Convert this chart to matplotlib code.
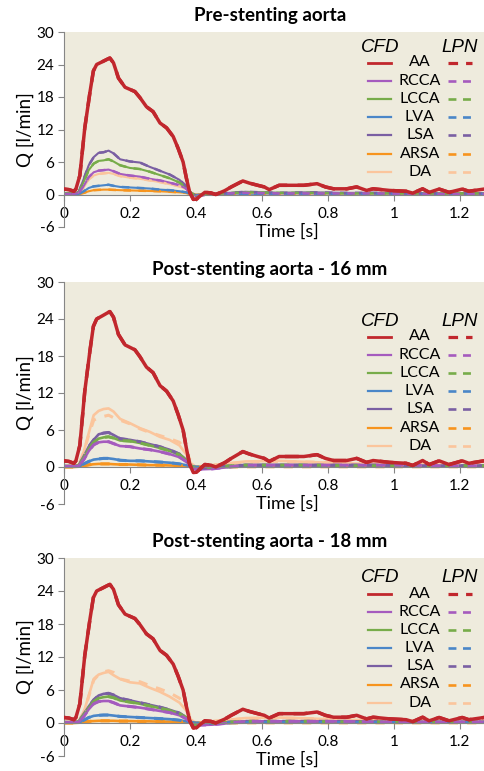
import numpy as np
import matplotlib
matplotlib.use("Agg")
import matplotlib.pyplot as plt
from matplotlib.lines import Line2D

plt.rcParams['font.family'] = ['Lato', 'DejaVu Sans']
plt.rcParams['axes.unicode_minus'] = False

# --- data (flow rate Q in l/min vs time in s) ---
NAMES = ['AA', 'RCCA', 'LCCA', 'LVA', 'LSA', 'ARSA', 'DA']
COLORS = ['#C1272D', '#A55BBE', '#77AC4A', '#4A86C8', '#7A5FA3', '#F7941E', '#FBC59C']

T_AA = [0, 0.015, 0.03, 0.036, 0.048, 0.063, 0.079, 0.089, 0.099, 0.119,
        0.132, 0.139, 0.15, 0.165, 0.185, 0.215, 0.23, 0.25, 0.27, 0.291, 0.311,
        0.331, 0.346, 0.361, 0.371, 0.381, 0.392, 0.402, 0.412, 0.427, 0.445,
        0.46, 0.487, 0.507, 0.542, 0.562, 0.587, 0.607, 0.622, 0.652, 0.687,
        0.727, 0.767, 0.792, 0.817, 0.857, 0.887, 0.917, 0.937, 0.987, 1.037,
        1.057, 1.087, 1.107, 1.137, 1.167, 1.207, 1.227, 1.273]
Q_AA = [1.0, 0.9, 0.6, 1.0, 3.5, 12.3, 19.0, 22.8, 24.0, 24.6,
        25.0, 25.2, 24.3, 21.5, 19.8, 19.0, 17.9, 16.2, 15.3, 13.2, 12.3,
        10.7, 8.5, 6.0, 3.0, 0.4, -0.9, -0.85, -0.3, 0.4, 0.3,
        0.0, 0.7, 1.4, 2.5, 2.1, 1.7, 1.4, 0.9, 1.7, 1.7,
        1.7, 2.0, 1.4, 1.05, 1.05, 1.4, 0.75, 1.05, 0.75, 0.6,
        0.25, 1.05, 0.4, 1.0, 0.4, 1.0, 0.6, 1.0]

T_BR = [0, 0.03, 0.045, 0.06, 0.075, 0.09, 0.105, 0.12, 0.135, 0.15,
        0.17, 0.2, 0.23, 0.26, 0.29, 0.32, 0.35, 0.37, 0.385, 0.4,
        0.45, 0.55, 0.65, 0.75, 0.85, 0.95, 1.05, 1.15, 1.273]

# pre-stenting
RCCA_1 = [0.1, 0.1, 0.3, 1.6, 3.2, 4.1, 4.4, 4.5, 4.6, 4.3, 3.8, 3.5, 3.3, 2.9, 2.6, 2.2, 1.7, 1.1, 0.2, -0.3, 0.1, 0.3, 0.2, 0.2, 0.2, 0.2, 0.1, 0.1, 0.1]
LCCA_1 = [0.2, 0.2, 0.4, 2.4, 4.5, 5.7, 6.2, 6.3, 6.5, 6.1, 5.4, 4.9, 4.7, 4.2, 3.6, 3.0, 2.2, 1.4, 0.3, -0.2, 0.1, 0.4, 0.3, 0.3, 0.2, 0.2, 0.2, 0.2, 0.2]
LVA_1 = [0.1, 0.1, 0.1, 0.6, 1.2, 1.5, 1.6, 1.7, 1.8, 1.6, 1.4, 1.3, 1.2, 1.1, 0.9, 0.8, 0.6, 0.4, 0.1, -0.1, 0.0, 0.1, 0.1, 0.1, 0.1, 0.1, 0.1, 0.1, 0.1]
LSA_1 = [0.2, 0.2, 0.5, 2.9, 5.4, 6.9, 7.7, 7.8, 8.1, 7.6, 6.5, 6.1, 5.9, 5.1, 4.4, 3.7, 2.7, 1.6, 0.3, -0.2, 0.1, 0.5, 0.3, 0.4, 0.3, 0.3, 0.2, 0.2, 0.2]
ARSA_1 = [0.0, 0.0, 0.1, 0.3, 0.6, 0.8, 0.85, 0.9, 0.9, 0.85, 0.8, 0.75, 0.7, 0.65, 0.6, 0.5, 0.4, 0.3, 0.1, 0.0, 0.0, 0.1, 0.1, 0.1, 0.1, 0.1, 0.1, 0.1, 0.1]
DA_1 = [0.1, 0.1, 0.2, 1.3, 2.8, 3.5, 3.8, 3.9, 4.0, 3.8, 3.4, 3.1, 2.9, 2.6, 2.3, 1.9, 1.5, 1.0, 0.2, 0.0, 0.1, 0.3, 0.2, 0.2, 0.2, 0.2, 0.1, 0.1, 0.1]
DA_1_LPN = DA_1

# post-stenting 16 mm
RCCA_2 = [0.1, 0.1, 0.2, 1.2, 2.6, 3.6, 4.0, 4.1, 4.1, 3.8, 3.4, 3.3, 3.0, 2.8, 2.5, 2.1, 1.6, 0.9, 0.1, -0.4, -0.3, 0.3, 0.3, 0.3, 0.3, 0.3, 0.3, 0.2, 0.2]
LCCA_2 = [0.1, 0.1, 0.3, 1.5, 3.0, 4.0, 4.6, 4.8, 4.9, 4.7, 4.3, 4.2, 3.9, 3.5, 3.1, 2.6, 2.0, 1.1, 0.2, -0.3, 0.0, 0.3, 0.3, 0.3, 0.2, 0.2, 0.2, 0.2, 0.2]
LVA_2 = [0.1, 0.1, 0.1, 0.5, 0.9, 1.2, 1.3, 1.4, 1.4, 1.3, 1.1, 1.0, 1.0, 0.9, 0.8, 0.7, 0.5, 0.3, 0.1, 0.0, 0.0, 0.1, 0.1, 0.1, 0.1, 0.1, 0.1, 0.1, 0.1]
LSA_2 = [0.1, 0.1, 0.3, 1.7, 3.3, 4.4, 5.3, 5.5, 5.6, 5.2, 4.6, 4.4, 4.1, 3.7, 3.3, 2.8, 2.1, 1.2, 0.2, -0.3, 0.0, 0.3, 0.3, 0.3, 0.3, 0.3, 0.2, 0.2, 0.2]
ARSA_2 = [0.0, 0.0, 0.05, 0.2, 0.35, 0.45, 0.5, 0.5, 0.5, 0.45, 0.4, 0.4, 0.35, 0.3, 0.3, 0.25, 0.2, 0.15, 0.05, 0.0, 0.0, 0.05, 0.05, 0.05, 0.05, 0.05, 0.05, 0.05, 0.05]
DA_2 = [0.2, 0.2, 0.4, 2.5, 5.5, 8.4, 9.1, 9.4, 9.5, 9.0, 7.8, 7.1, 6.3, 5.7, 4.9, 4.4, 3.5, 2.1, 0.6, 0.0, 0.3, 0.9, 1.0, 0.8, 0.6, 0.5, 0.4, 0.3, 0.3]
DA_2_LPN = [0.2, 0.2, 0.4, 2.4, 5.2, 7.6, 8.0, 8.2, 8.4, 8.0, 7.6, 7.0, 6.2, 5.6, 5.1, 4.6, 4.0, 2.6, 0.8, 0.0, 0.3, 0.8, 0.9, 0.8, 0.6, 0.5, 0.4, 0.3, 0.3]

# post-stenting 18 mm
RCCA_3 = [0.1, 0.1, 0.2, 1.2, 2.5, 3.5, 3.9, 4.0, 4.0, 3.7, 3.2, 3.0, 2.8, 2.5, 2.2, 1.9, 1.4, 0.8, 0.1, -0.4, -0.3, 0.3, 0.3, 0.3, 0.3, 0.2, 0.2, 0.2, 0.2]
LCCA_3 = [0.1, 0.1, 0.3, 1.5, 2.8, 3.9, 4.5, 4.7, 4.8, 4.6, 4.1, 3.8, 3.5, 3.1, 2.7, 2.3, 1.7, 1.0, 0.2, -0.3, 0.0, 0.3, 0.3, 0.3, 0.2, 0.2, 0.2, 0.2, 0.2]
LVA_3 = [0.1, 0.1, 0.1, 0.5, 1.0, 1.3, 1.4, 1.45, 1.45, 1.35, 1.2, 1.1, 1.0, 0.9, 0.8, 0.7, 0.5, 0.3, 0.1, 0.0, 0.0, 0.1, 0.1, 0.1, 0.1, 0.1, 0.1, 0.1, 0.1]
LSA_3 = [0.1, 0.1, 0.3, 1.6, 3.0, 4.2, 5.0, 5.3, 5.4, 5.1, 4.5, 4.1, 3.7, 3.3, 2.9, 2.4, 1.8, 1.0, 0.2, -0.3, 0.0, 0.3, 0.3, 0.3, 0.3, 0.2, 0.2, 0.2, 0.2]
ARSA_3 = [0.0, 0.0, 0.05, 0.2, 0.3, 0.35, 0.4, 0.4, 0.4, 0.4, 0.35, 0.35, 0.3, 0.3, 0.25, 0.25, 0.2, 0.15, 0.05, 0.0, 0.0, 0.05, 0.05, 0.05, 0.05, 0.05, 0.05, 0.05, 0.05]
DA_3 = [0.2, 0.2, 0.4, 2.0, 5.0, 8.0, 8.8, 9.1, 9.3, 8.7, 8.0, 7.4, 7.2, 6.4, 5.7, 4.8, 3.7, 2.3, 0.6, 0.0, 0.3, 0.9, 1.0, 0.8, 0.6, 0.5, 0.4, 0.3, 0.3]
DA_3_LPN = [0.2, 0.2, 0.4, 2.0, 4.8, 7.8, 8.8, 9.3, 9.5, 9.2, 8.0, 7.6, 7.5, 6.8, 6.2, 5.5, 4.5, 3.0, 0.8, 0.0, 0.3, 0.8, 0.9, 0.8, 0.6, 0.5, 0.4, 0.3, 0.3]

TITLES = ['Pre-stenting aorta', 'Post-stenting aorta - 16 mm', 'Post-stenting aorta - 18 mm']
X_TICKS = [0, 0.2, 0.4, 0.6, 0.8, 1.0, 1.2]
X_LABELS = ['0', '0.2', '0.4', '0.6', '0.8', '1', '1.2']
Y_TICKS = [-6, 0, 6, 12, 18, 24, 30]

BEIGE = '#EEEBDD'
GREY = '#868686'

W, H = 484, 771
fig = plt.figure(figsize=(W / 100, H / 100), dpi=100)


def fx(x):
    return x / W


def fy(y):
    return 1 - y / H


# (top px, bottom px, title y, legend header y)
layout = [(32, 227, 16, 47),
          (282, 504, 270, 321),
          (558, 756, 542, 578)]

panels = [
    ([RCCA_1, LCCA_1, LVA_1, LSA_1, ARSA_1, DA_1], DA_1_LPN),
    ([RCCA_2, LCCA_2, LVA_2, LSA_2, ARSA_2, DA_2], DA_2_LPN),
    ([RCCA_3, LCCA_3, LVA_3, LSA_3, ARSA_3, DA_3], DA_3_LPN),
]

for k, ((top, bot, ty, ly), (branches, da_lpn)) in enumerate(zip(layout, panels)):
    ax = fig.add_axes([fx(64), fy(bot), fx(W - 64), (bot - top) / H])
    ax.set_xlim(0, 1.273)
    ax.set_ylim(-6, 30)
    ax.set_facecolor('none')
    ax.axhspan(0, 30, color=BEIGE, lw=0, zorder=0)

    lw_br = 1.5 if k == 0 else 1.9
    # branches: CFD solid then LPN dashed
    order = [5, 4, 3, 2, 1, 0]  # DA first, RCCA last
    for i in order:
        ax.plot(T_BR, branches[i], color=COLORS[i + 1], lw=lw_br,
                solid_capstyle='round', zorder=2)
    for i in order:
        lpn = da_lpn if i == 5 else branches[i]
        ax.plot(T_BR, lpn, color=COLORS[i + 1], lw=lw_br + 0.3,
                ls=(0, (3, 3)), zorder=2.5)
    ax.plot(T_AA, Q_AA, color=COLORS[0], lw=2.5, zorder=3,
            solid_joinstyle='round')
    ax.plot(T_AA, Q_AA, color=COLORS[0], lw=2.5, ls=(0, (4, 3)), zorder=3.1)

    for s in ['top', 'right']:
        ax.spines[s].set_visible(False)
    ax.spines['bottom'].set_position(('data', 0))
    for s in ['bottom', 'left']:
        ax.spines[s].set_color(GREY)
        ax.spines[s].set_linewidth(0.8)
    ax.set_xticks(X_TICKS)
    ax.set_xticklabels(X_LABELS)
    ax.set_yticks(Y_TICKS)
    ax.tick_params(direction='out', length=4, width=0.8, color=GREY,
                   labelsize=11, labelcolor='black')
    ax.tick_params(axis='x', pad=5)
    ax.tick_params(axis='y', pad=3)

    zero_px = top + (bot - top) * 30 / 36
    fig.text(fx(270), fy(ty), TITLES[k], ha='center', va='center',
             fontsize=13.5, fontweight='bold')
    fig.text(fx(287), fy(zero_px + 37), 'Time [s]', ha='center', va='center',
             fontsize=13)
    fig.text(fx(25), fy((top + bot) / 2), 'Q [l/min]', ha='center', va='center',
             rotation=90, fontsize=13.5)

    # legend: CFD | name | LPN
    fig.text(fx(380), fy(ly), 'CFD', ha='center', va='center', fontsize=13.5,
             style='italic', family='Liberation Sans')
    fig.text(fx(460), fy(ly), 'LPN', ha='center', va='center', fontsize=13.5,
             style='italic', family='Liberation Sans')
    for j, (name, col) in enumerate(zip(NAMES, COLORS)):
        yy = fy(ly + 15.5 + 18.2 * j)
        lw = 2.0 if j == 0 else 1.6
        fig.add_artist(Line2D([fx(368), fx(391)], [yy, yy], color=col, lw=lw))
        fig.add_artist(Line2D([fx(448), fx(472)], [yy, yy], color=col, lw=lw + 0.3,
                              ls=(0, (3, 2.5))))
        fig.text(fx(420), yy, name, ha='center', va='center', fontsize=11.5)

fig.savefig('out.png', dpi=100)
